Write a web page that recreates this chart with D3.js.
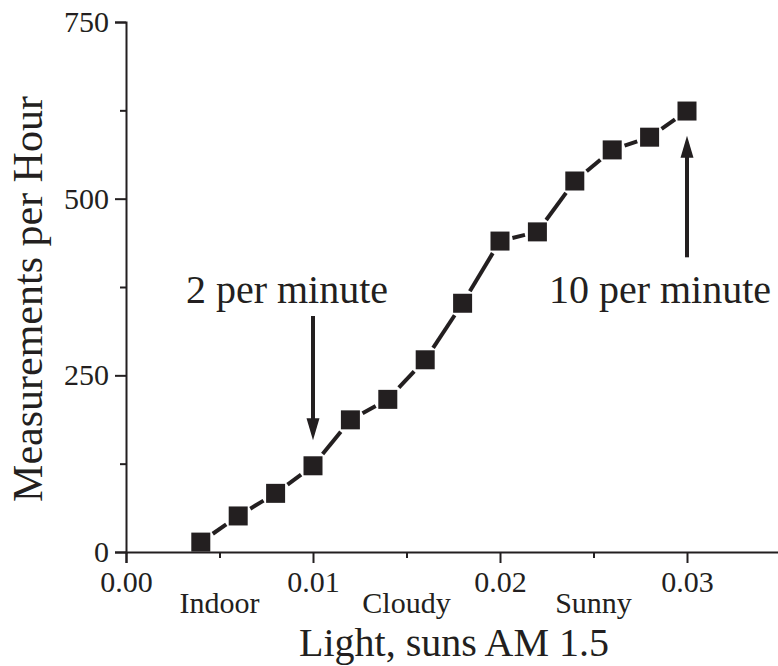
<!DOCTYPE html>
<html>
<head>
<meta charset="utf-8">
<script src="https://cdn.jsdelivr.net/npm/d3@7"></script>
<style>
  body { margin: 0; background: #fff; }
  svg text { font-family: "Liberation Serif", "Times New Roman", serif; fill: #231f20; }
</style>
</head>
<body>
<svg id="chart" width="778" height="666"></svg>
<script>
// light level (suns AM 1.5) and measurement rate
const lightLevels = [0.004, 0.006, 0.008, 0.010, 0.012, 0.014, 0.016, 0.018, 0.020, 0.022, 0.024, 0.026, 0.028, 0.030];
const ratePerHour = [14, 51, 83, 122, 187, 216, 272, 352, 440, 453, 525, 569, 587, 624];

const xMajorTicks = [0, 0.01, 0.02, 0.03];
const xMinorTicks = [0.005, 0.015, 0.025, 0.035];
const yMajorTicks = [0, 250, 500, 750];
const yMinorTicks = [125, 375, 625];

const conditionLabels = ["Indoor", "Cloudy", "Sunny"];
const conditionAt = [0.005, 0.015, 0.025];

// arrows: label, x, tail value, tip value
const noteLabels = ["2 per minute", "10 per minute"];
const noteX = [0.010, 0.030];
const noteTail = [334, 417];
const noteTip = [158, 589];
const noteTextX = [287, 660];

const ink = "#231f20";
const svg = d3.select("#chart");

const marginLeft = 126, plotTop = 22, plotBottom = 552;

const x = d3.scaleLinear().domain([0, 0.035]).range([marginLeft, marginLeft + 0.035 * 18700]);
const y = d3.scaleLinear().domain([0, 750]).range([plotBottom, plotTop]);

function styleAxis(g) {
  g.attr("font-family", null);
  g.select(".domain").attr("stroke", ink).attr("stroke-width", 2);
  g.selectAll(".tick line").attr("stroke", ink).attr("stroke-width", 2);
}

// x axis
const xAxis = svg.append("g")
  .attr("transform", `translate(0,${plotBottom})`)
  .call(d3.axisBottom(x).tickValues(xMajorTicks).tickSize(11).tickPadding(8)
    .tickFormat(d3.format(".2f")));
xAxis.call(styleAxis);
xAxis.selectAll("text").style("font-size", "30px").attr("fill", ink);

svg.append("g")
  .attr("transform", `translate(0,${plotBottom})`)
  .call(d3.axisBottom(x).tickValues(xMinorTicks).tickSize(6).tickFormat(""))
  .call(g => g.select(".domain").remove())
  .call(styleAxis);

// y axis
const yAxis = svg.append("g")
  .attr("transform", `translate(${marginLeft},0)`)
  .call(d3.axisLeft(y).tickValues(yMajorTicks).tickSize(11).tickPadding(6));
yAxis.call(styleAxis);
yAxis.selectAll("text").style("font-size", "30px").attr("fill", ink);

svg.append("g")
  .attr("transform", `translate(${marginLeft},0)`)
  .call(d3.axisLeft(y).tickValues(yMinorTicks).tickSize(6).tickFormat(""))
  .call(g => g.select(".domain").remove())
  .call(styleAxis);

// condition labels under minor ticks
svg.selectAll("text.cond")
  .data(conditionLabels)
  .join("text")
  .attr("class", "cond")
  .attr("x", (d, i) => x(conditionAt[i]))
  .attr("y", 613)
  .attr("text-anchor", "middle")
  .style("font-size", "30px")
  .text(d => d);

// axis titles
svg.append("text")
  .attr("x", 454)
  .attr("y", 656)
  .attr("text-anchor", "middle")
  .style("font-size", "40px")
  .text("Light, suns AM 1.5");

svg.append("text")
  .attr("transform", "translate(42,299) rotate(-90)")
  .attr("text-anchor", "middle")
  .style("font-size", "42px")
  .text("Measurements per Hour");

// series: segments stop short of each square, Origin style
const points = lightLevels.map((v, i) => ({ px: x(v), py: y(ratePerHour[i]) }));
const sq = 19;
const gap = 3;

function trim(a, b) {
  const dx = b.px - a.px, dy = b.py - a.py;
  const len = Math.hypot(dx, dy);
  // distance from centre to square edge along the segment
  const edge = (sq / 2) / Math.max(Math.abs(dx), Math.abs(dy)) * len;
  const t = (edge + gap) / len;
  return [a.px + dx * t, a.py + dy * t, b.px - dx * t, b.py - dy * t];
}

const segs = d3.pairs(points).map(([a, b]) => trim(a, b));
svg.selectAll("line.seg")
  .data(segs)
  .join("line")
  .attr("class", "seg")
  .attr("x1", d => d[0]).attr("y1", d => d[1])
  .attr("x2", d => d[2]).attr("y2", d => d[3])
  .attr("stroke", ink)
  .attr("stroke-width", 4);

svg.selectAll("rect.pt")
  .data(points)
  .join("rect")
  .attr("class", "pt")
  .attr("x", d => d.px - sq / 2)
  .attr("y", d => d.py - sq / 2)
  .attr("width", sq)
  .attr("height", sq)
  .attr("fill", ink);

// annotations
noteLabels.forEach((label, i) => {
  const x0 = x(noteX[i]);
  const yTail = y(noteTail[i]);
  const yTip = y(noteTip[i]);
  const dir = yTip > yTail ? 1 : -1;
  svg.append("line")
    .attr("x1", x0).attr("x2", x0)
    .attr("y1", yTail).attr("y2", yTip - dir * 12)
    .attr("stroke", ink)
    .attr("stroke-width", 4);
  svg.append("path")
    .attr("d", `M${x0},${yTip} L${x0 - 6.5},${yTip - dir * 22} L${x0 + 6.5},${yTip - dir * 22} Z`)
    .attr("fill", ink);
  svg.append("text")
    .attr("x", noteTextX[i])
    .attr("y", 303)
    .attr("text-anchor", "middle")
    .style("font-size", "40px")
    .text(label);
});
</script>
</body>
</html>
